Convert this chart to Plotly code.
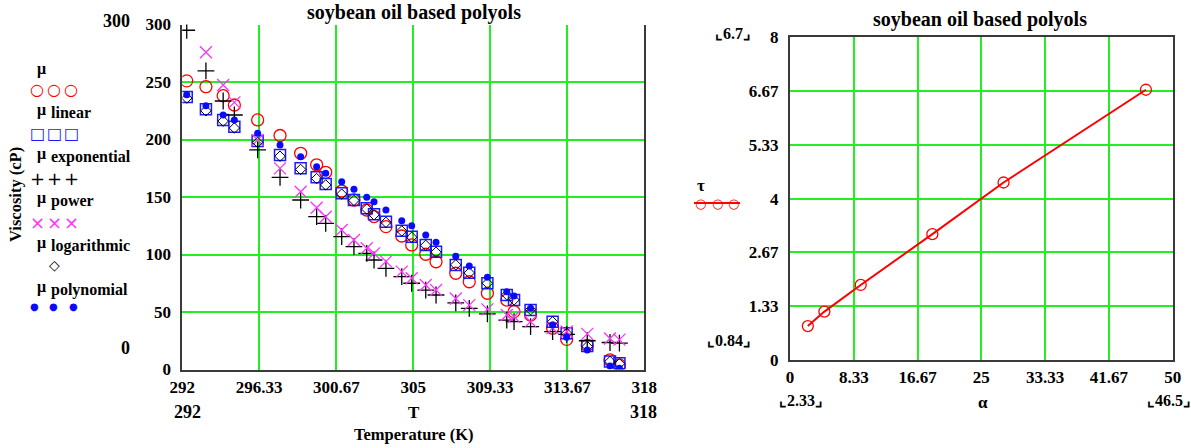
import plotly.graph_objects as go

W, H = 1191, 448

# ---------------- data ----------------
T = [292.25, 293.33, 294.30, 294.93, 296.24, 297.50, 298.66, 299.56, 300.07, 300.97,
     301.66, 302.38, 302.79, 303.46, 304.35, 304.91, 305.70, 306.28, 307.39, 308.15,
     309.17, 310.26, 310.67, 311.60, 312.84, 313.63, 314.79, 316.07, 316.60]
mu = [251, 245.9, 238.1, 230, 217, 203.5, 188, 178, 171.5, 155.2,
      147.4, 138.7, 133, 124.2, 116.1, 108.3, 100.2, 93.7, 83.7, 76.3,
      66.3, 60.4, 50.3, 47.4, 35.9, 26.2, 21, 8.3, 3.9]
mu_linear = [237, 226.3, 217, 211, 198.7, 186.5, 175, 167.1, 161.3, 153.2,
             147.4, 140.2, 135, 128.5, 120.7, 115.5, 108.3, 102.4, 90.9, 84.2,
             75, 64.8, 60.4, 51.7, 41.6, 31.5, 20.5, 7, 5.4]
mu_exponential = [295, 259.6, 233.5, 221.3, 190.9, 167.1, 147.4, 132.9, 127.1, 115.5,
                  106.8, 101, 95.2, 88, 80.7, 75, 69.1, 64.8, 58, 53.2,
                  48.3, 43, 41.6, 37.2, 33, 30.5, 25, 23.5, 23]
mu_power = [307, 275.8, 247.4, 232.3, 199.6, 174.9, 154.6, 140.7, 132.9, 121.3,
            112.6, 105.4, 101, 94, 85.1, 79.3, 73.5, 69.1, 61.8, 56,
            52.3, 47.4, 45.9, 41.6, 36, 33, 31, 27, 26]
mu_logarithmic = [236, 225, 216, 210, 197.5, 185.5, 174, 166, 160.5, 152.5,
                  147, 139.5, 134.5, 128, 120.5, 115, 108, 102, 91, 84,
                  75, 65, 60.5, 52, 41.5, 31.5, 20, 7, 5]
mu_polynomial = [239, 229.4, 221.3, 217, 205.4, 195.2, 185, 176.3, 170.6, 163.3,
                 156.7, 149.7, 145.9, 138.7, 129.4, 125, 117, 110.6, 98.5, 90,
                 80.2, 67.7, 63.9, 53.2, 38.7, 28, 17, 3, 1]

alpha = [2.33, 4.49, 9.24, 18.6, 27.9, 46.5]
tau = [0.84, 1.2, 1.86, 3.12, 4.4, 6.7]

x1_ticks = [292, 296.33, 300.67, 305, 309.33, 313.67, 318]
y1_ticks = [0, 50, 100, 150, 200, 250, 300]
x2_ticks = [0, 8.33, 16.67, 25, 33.33, 41.67, 50]
y2_ticks = [0, 1.33, 2.67, 4, 5.33, 6.67, 8]

TITLE = "soybean oil based polyols"

# ---------------- styling ----------------
SERIF = "Liberation Serif, Times New Roman, serif"
GRID = "#22ee22"
FRAME = "#3a3a3a"


def px(x):
    return x / W


def py(y):
    return 1 - y / H


fig = go.Figure()

series = [
    (mu, "μ", dict(symbol="circle-open", size=12, color="red", line=dict(width=1.3, color="red"))),
    (mu_linear, "μ linear", dict(symbol="square-open", size=11, color="#1a1aff", line=dict(width=1.5, color="#1a1aff"))),
    (mu_exponential, "μ exponential", dict(symbol="cross-thin-open", size=12, color="black", line=dict(width=1.3, color="black"))),
    (mu_power, "μ power", dict(symbol="x-thin-open", size=12, color="#ff33ff", line=dict(width=1.3, color="#ff33ff"))),
    (mu_logarithmic, "μ logarithmic", dict(symbol="diamond-open", size=8, color="black", line=dict(width=1, color="black"))),
    (mu_polynomial, "μ polynomial", dict(symbol="circle", size=7, color="#0a0aff", line=dict(width=0))),
]
for ys, name, mk in series:
    fig.add_trace(go.Scatter(x=T, y=ys, mode="markers", name=name, marker=mk,
                             xaxis="x", yaxis="y", showlegend=False))

fig.add_trace(go.Scatter(x=alpha, y=tau, mode="lines+markers", name="τ",
                         line=dict(color="red", width=2),
                         marker=dict(symbol="circle-open", size=11, color="red",
                                     line=dict(width=1.3, color="red")),
                         xaxis="x2", yaxis="y2", showlegend=False))

tickfont = dict(family=SERIF, size=17, color="black", weight="bold")

common = dict(showgrid=True, gridcolor=GRID, gridwidth=1.5, zeroline=False,
              ticks="", tickfont=tickfont, automargin=False,
              showline=True, linecolor=FRAME, linewidth=2)

fig.update_layout(
    width=W, height=H,
    margin=dict(l=0, r=0, t=0, b=0, pad=0),
    paper_bgcolor="white", plot_bgcolor="white",
    showlegend=False,
    xaxis=dict(domain=[px(182.3), px(644.3)], range=[292, 318],
               tickvals=x1_ticks, ticktext=[f"{v:g}" for v in x1_ticks],
               mirror=False, anchor="y", ticklabelstandoff=1, **common),
    yaxis=dict(domain=[py(369.5), py(24.5)], range=[0, 300],
               tickvals=y1_ticks, ticktext=[str(v) for v in y1_ticks],
               mirror=True, anchor="x", ticklabelstandoff=6, **common),
    xaxis2=dict(domain=[px(790), px(1172.7)], range=[0, 50],
                tickvals=x2_ticks, ticktext=[f"{v:g}" for v in x2_ticks],
                mirror=True, anchor="y2", ticklabelstandoff=1, **common),
    yaxis2=dict(domain=[py(360), py(37.3)], range=[0, 8],
                tickvals=y2_ticks, ticktext=[f"{v:g}" for v in y2_ticks],
                mirror=True, anchor="x2", ticklabelstandoff=6, **common),
)

ann = []


def text(x, y, s, size=16, color="black", xanchor="center", family=SERIF, bold=True, angle=0):
    ann.append(dict(x=px(x), y=py(y), xref="paper", yref="paper", text=s, showarrow=False,
                    xanchor=xanchor, yanchor="middle", textangle=angle,
                    font=dict(family=family, size=size, color=color,
                              weight="bold" if bold else "normal")))


# titles
text(414, 13, TITLE, size=20)
text(980, 20, TITLE, size=20)

# left plot extra labels
text(132, 21, "300", size=18, xanchor="right")
text(132, 348, "0", size=18, xanchor="right")
text(187, 412, "292", size=18)
text(414, 412, "T", size=17)
text(643, 412, "318", size=18)
text(414, 434, "Temperature (K)", size=16.5)
text(15, 195, "Viscosity (cP)", size=16.5, angle=-90)

# left legend (Mathcad style): label, then sample symbols below it
legend_rows = [
    ("", 69, "○", "red", 16, [37, 54, 71], 89),
    ("linear", 110, "□", "#1a1aff", 16, [37, 54, 71], 133),
    ("exponential", 154, "+", "black", 18, [37, 54, 71], 178),
    ("power", 198, "×", "#ff33ff", 18, [37, 54, 71], 222),
    ("logarithmic", 243, "◇", "black", 14, [54], 265),
    ("polynomial", 287, "●", "#0a0aff", 10, [34, 53, 73], 306),
]
for sub, yy, glyph, col, gsize, xs, gy in legend_rows:
    text(35, yy, "μ", size=16, xanchor="left")
    if sub:
        text(49, yy + 3, sub, size=16, xanchor="left")
    for gx in xs:
        text(gx, gy, glyph, size=gsize, color=col, family="DejaVu Sans", bold=False)

# right plot extra labels
text(733, 33, "⌞6.7⌟", size=16)
text(729, 340, "⌞0.84⌟", size=16)
text(801, 400, "⌞2.33⌟", size=16)
text(983, 402, "α", size=17)
text(1169, 400, "⌞46.5⌟", size=16)
text(701, 185, "τ", size=17)
for gx in [700, 717, 733]:
    text(gx, 203, "○", size=13, color="red", family="DejaVu Sans", bold=False)

fig.update_layout(annotations=ann,
                  shapes=[dict(type="line", xref="paper", yref="paper",
                               x0=px(694), x1=px(740), y0=py(203), y1=py(203),
                               line=dict(color="red", width=2))])

fig.write_html("out.html")
